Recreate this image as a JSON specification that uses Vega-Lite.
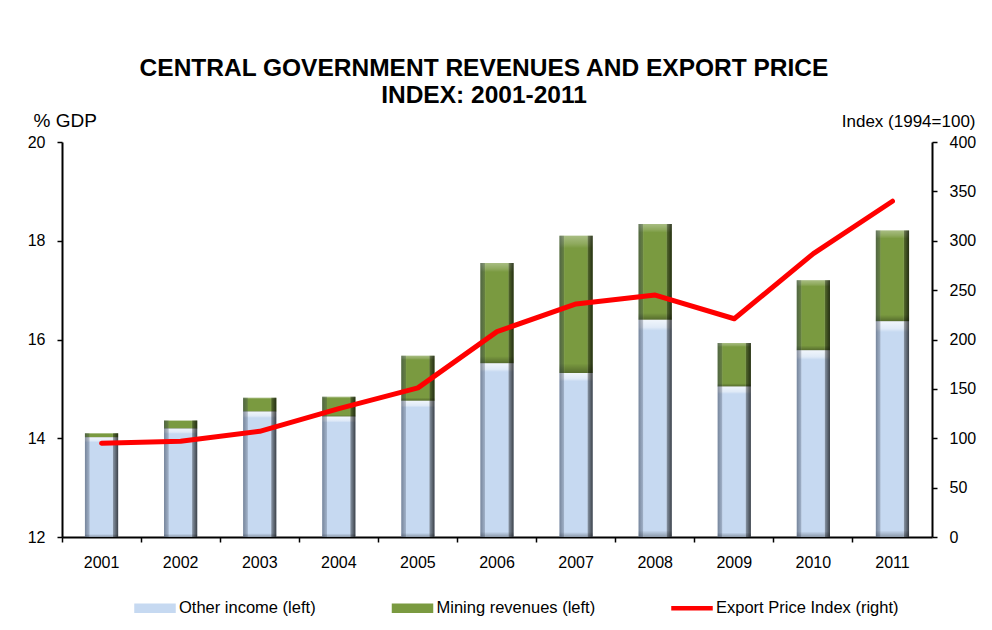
{
  "$schema": "https://vega.github.io/schema/vega-lite/v6.json",
  "width": 870,
  "height": 395,
  "autosize": {"type": "none"},
  "padding": {"left": 62, "top": 142, "right": 60, "bottom": 93},
  "title": {
    "text": ["CENTRAL GOVERNMENT REVENUES AND EXPORT PRICE", "INDEX: 2001-2011"],
    "font": "Liberation Sans",
    "fontSize": 24.5,
    "fontWeight": "bold",
    "color": "black",
    "anchor": "middle",
    "frame": "group",
    "dx": -13,
    "offset": 3,
    "lineHeight": 26.5
  },
  "data": {
    "values": [
      {"year": "2001", "other": 14.02, "total": 14.10, "index": 95},
      {"year": "2002", "other": 14.20, "total": 14.36, "index": 97},
      {"year": "2003", "other": 14.54, "total": 14.82, "index": 107},
      {"year": "2004", "other": 14.44, "total": 14.84, "index": 130},
      {"year": "2005", "other": 14.76, "total": 15.67, "index": 151},
      {"year": "2006", "other": 15.52, "total": 17.55, "index": 208},
      {"year": "2007", "other": 15.32, "total": 18.10, "index": 236},
      {"year": "2008", "other": 16.40, "total": 18.34, "index": 245},
      {"year": "2009", "other": 15.05, "total": 15.93, "index": 221},
      {"year": "2010", "other": 15.78, "total": 17.20, "index": 287},
      {"year": "2011", "other": 16.37, "total": 18.21, "index": 340}
    ]
  },
  "encoding": {
    "x": {
      "field": "year",
      "type": "ordinal",
      "title": null,
      "scale": {"paddingInner": 0, "paddingOuter": 0},
      "axis": {
        "bandPosition": 0,
        "labelAngle": 0,
        "labelFontSize": 16,
        "labelFont": "Liberation Sans",
        "labelColor": "black",
        "labelPadding": 12,
        "tickSize": 5,
        "tickWidth": 1.5,
        "tickColor": "black",
        "domainColor": "black",
        "domainWidth": 2,
        "grid": false
      }
    }
  },
  "layer": [
    {
      "layer": [
        {
          "mark": {"type": "bar", "width": {"band": 0.42}},
          "encoding": {
            "y": {
              "field": "other",
              "type": "quantitative",
              "title": "% GDP",
              "scale": {"domain": [12, 20], "zero": false, "nice": false},
              "axis": {
                "orient": "left",
                "values": [12, 14, 16, 18, 20],
                "titleAngle": 0,
                "titleX": -29,
                "titleY": -16,
                "titleAlign": "left",
                "titleBaseline": "alphabetic",
                "titleFontSize": 19,
                "titleFontWeight": "normal",
                "titleFont": "Liberation Sans",
                "titleColor": "black",
                "labelFontSize": 16,
                "labelFont": "Liberation Sans",
                "labelColor": "black",
                "labelPadding": 12,
                "tickSize": 5,
                "tickWidth": 1.5,
                "tickColor": "black",
                "domainColor": "black",
                "domainWidth": 2,
                "grid": false
              }
            },
            "y2": {"datum": 12},
            "color": {
              "datum": "Other income (left)",
              "type": "nominal",
              "scale": {
                "domain": ["Other income (left)", "Mining revenues (left)", "Export Price Index (right)"],
                "range": ["#c6d9f1", "#7a9a40", "#ff0000"]
              },
              "legend": {
                "orient": "none",
                "legendX": 72,
                "legendY": 445,
                "direction": "horizontal",
                "title": null,
                "padding": 0,
                "columnPadding": 73.5,
                "symbolSize": 1600,
                "labelFontSize": 16.5,
                "labelFont": "Liberation Sans",
                "labelColor": "black",
                "labelOffset": 3,
                "labelLimit": 400,
                "encode": {
                  "symbols": {
                    "update": {
                      "shape": {"signal": "datum.value === 'Export Price Index (right)' ? 'M-1,-0.08H1V0.08H-1Z' : 'M-1,-0.2H1V0.2H-1Z'"},
                      "fill": {"scale": "color", "field": "value"},
                      "stroke": {"value": "transparent"},
                      "opacity": {"value": 1},
                      "fillOpacity": {"value": 1}
                    }
                  }
                }
              }
            }
          }
        },
        {
          "mark": {"type": "bar", "width": {"band": 0.42}},
          "encoding": {
            "y": {
              "field": "total",
              "type": "quantitative",
              "title": "% GDP",
              "scale": {"domain": [12, 20], "zero": false, "nice": false}
            },
            "y2": {"field": "other"},
            "color": {
              "datum": "Mining revenues (left)",
              "type": "nominal",
              "scale": {
                "domain": ["Other income (left)", "Mining revenues (left)", "Export Price Index (right)"],
                "range": ["#c6d9f1", "#7a9a40", "#ff0000"]
              }
            }
          }
        },
        {
          "mark": {
            "type": "bar",
            "width": {"band": 0.42},
            "fill": {
              "gradient": "linear", "x1": 0, "y1": 0, "x2": 0, "y2": 1,
              "stops": [
                {"offset": 0, "color": "rgba(255,255,255,0.75)"},
                {"offset": 0.035, "color": "rgba(255,255,255,0.45)"},
                {"offset": 0.05, "color": "rgba(255,255,255,0)"},
                {"offset": 0.97, "color": "rgba(0,0,0,0)"},
                {"offset": 1, "color": "rgba(0,0,0,0.3)"}
              ]
            }
          },
          "encoding": {
            "y": {
              "field": "other",
              "type": "quantitative",
              "title": "% GDP",
              "scale": {"domain": [12, 20], "zero": false, "nice": false}
            },
            "y2": {"datum": 12}
          }
        },
        {
          "mark": {
            "type": "bar",
            "width": {"band": 0.42},
            "fill": {
              "gradient": "linear", "x1": 0, "y1": 0, "x2": 0, "y2": 1,
              "stops": [
                {"offset": 0, "color": "rgba(255,255,255,0.35)"},
                {"offset": 0.06, "color": "rgba(255,255,255,0.15)"},
                {"offset": 0.09, "color": "rgba(255,255,255,0)"},
                {"offset": 0.93, "color": "rgba(0,0,0,0)"},
                {"offset": 1, "color": "rgba(0,0,0,0.3)"}
              ]
            }
          },
          "encoding": {
            "y": {
              "field": "total",
              "type": "quantitative",
              "title": "% GDP",
              "scale": {"domain": [12, 20], "zero": false, "nice": false}
            },
            "y2": {"field": "other"}
          }
        },
        {
          "mark": {
            "type": "bar",
            "width": {"band": 0.42},
            "fill": {
              "gradient": "linear", "x1": 0, "y1": 0, "x2": 1, "y2": 0,
              "stops": [
                {"offset": 0, "color": "rgba(40,50,70,0.5)"},
                {"offset": 0.13, "color": "rgba(40,50,70,0.25)"},
                {"offset": 0.16, "color": "rgba(255,255,255,0)"},
                {"offset": 0.82, "color": "rgba(255,255,255,0)"},
                {"offset": 0.86, "color": "rgba(0,0,0,0.35)"},
                {"offset": 1, "color": "rgba(0,0,0,0.7)"}
              ]
            }
          },
          "encoding": {
            "y": {
              "field": "total",
              "type": "quantitative",
              "title": "% GDP",
              "scale": {"domain": [12, 20], "zero": false, "nice": false}
            },
            "y2": {"datum": 12}
          }
        }
      ]
    },
    {
      "mark": {"type": "line", "strokeWidth": 5, "strokeJoin": "round", "strokeCap": "round"},
      "encoding": {
        "y": {
          "field": "index",
          "type": "quantitative",
          "title": "Index (1994=100)",
          "scale": {"domain": [0, 400], "nice": false},
          "axis": {
            "orient": "right",
            "values": [0, 50, 100, 150, 200, 250, 300, 350, 400],
            "titleAngle": 0,
            "titleX": 43,
            "titleY": -16,
            "titleAlign": "right",
            "titleBaseline": "alphabetic",
            "titleFontSize": 17,
            "titleFontWeight": "normal",
            "titleFont": "Liberation Sans",
            "titleColor": "black",
            "labelFontSize": 16,
            "labelFont": "Liberation Sans",
            "labelColor": "black",
            "labelPadding": 12,
            "tickSize": 5,
            "tickWidth": 1.5,
            "tickColor": "black",
            "domainColor": "black",
            "domainWidth": 2,
            "grid": false
          }
        },
        "color": {
          "datum": "Export Price Index (right)",
          "type": "nominal",
          "scale": {
            "domain": ["Other income (left)", "Mining revenues (left)", "Export Price Index (right)"],
            "range": ["#c6d9f1", "#7a9a40", "#ff0000"]
          }
        }
      }
    }
  ],
  "resolve": {"scale": {"y": "independent"}},
  "config": {
    "view": {"stroke": null},
    "background": "white",
    "font": "Liberation Sans"
  }
}
